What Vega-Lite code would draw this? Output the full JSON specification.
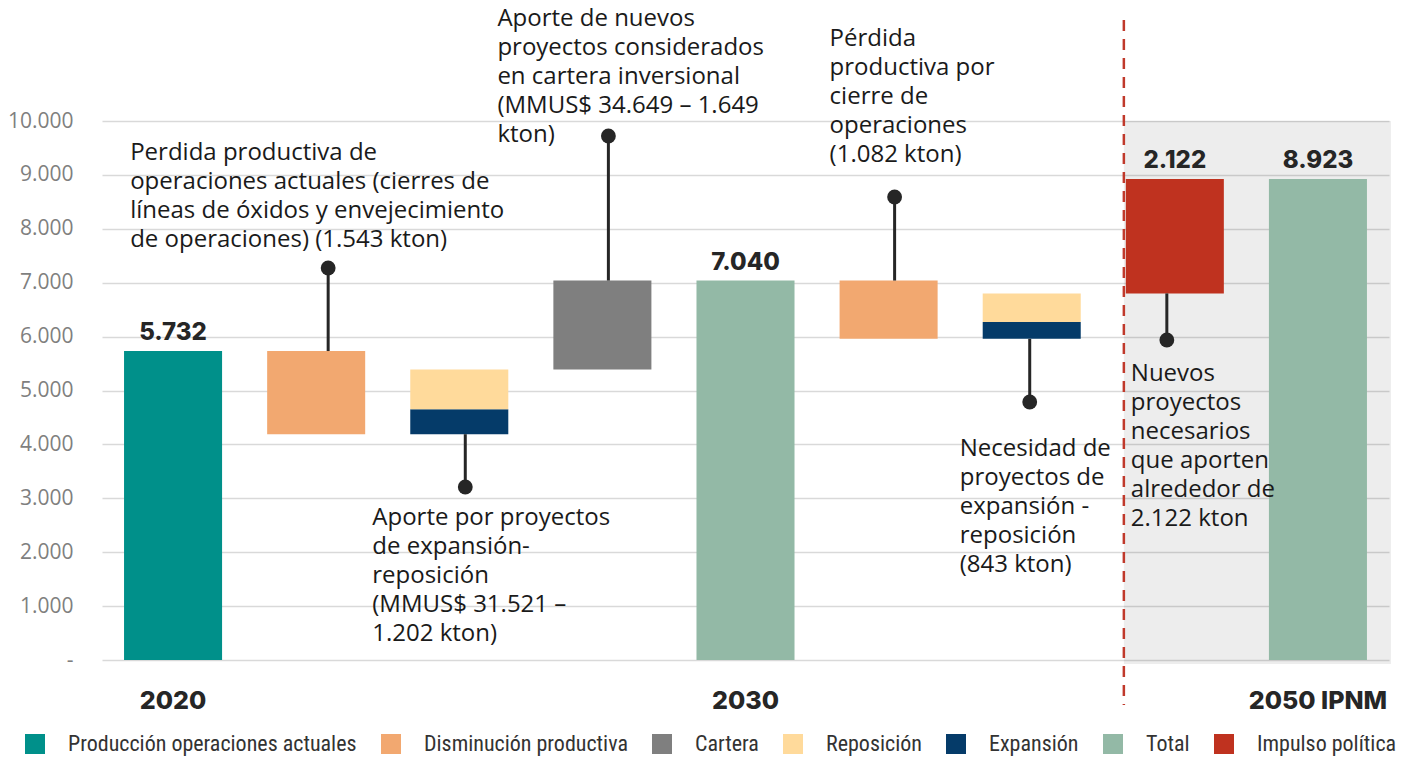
{
  "$schema": "https://vega.github.io/schema/vega-lite/v6.json",
  "width": 1287,
  "height": 539,
  "autosize": {"type": "none"},
  "padding": {"left": 102, "top": 121, "right": 12, "bottom": 97},
  "background": "white",
  "config": {"view": {"stroke": null}, "font": "Open Sans"},
  "datasets": {
    "bars": [
      {"cat": "2020", "series": "Producción operaciones actuales", "y0": 0, "y1": 5732},
      {"cat": "d1", "series": "Disminución productiva", "y0": 4189, "y1": 5732},
      {"cat": "p1", "series": "Expansión", "y0": 4189, "y1": 4653},
      {"cat": "p1", "series": "Reposición", "y0": 4653, "y1": 5391},
      {"cat": "cart", "series": "Cartera", "y0": 5391, "y1": 7040},
      {"cat": "2030", "series": "Total", "y0": 0, "y1": 7040},
      {"cat": "d2", "series": "Disminución productiva", "y0": 5958, "y1": 7040},
      {"cat": "p2", "series": "Expansión", "y0": 5958, "y1": 6271},
      {"cat": "p2", "series": "Reposición", "y0": 6271, "y1": 6801},
      {"cat": "imp", "series": "Impulso política", "y0": 6801, "y1": 8923},
      {"cat": "2050 IPNM", "series": "Total", "y0": 0, "y1": 8923}
    ],
    "conn": [
      {"cat": "d1", "grp": "a", "from": 5732, "to": 7273},
      {"cat": "p1", "grp": "b", "from": 4189, "to": 3210},
      {"cat": "cart", "grp": "b", "from": 7040, "to": 9722},
      {"cat": "d2", "grp": "b", "from": 7040, "to": 8590},
      {"cat": "p2", "grp": "c", "from": 5958, "to": 4787},
      {"cat": "imp", "grp": "d", "from": 6801, "to": 5937}
    ],
    "labels": [
      {"cat": "2020", "v": 5732, "label": "5.732"},
      {"cat": "2030", "v": 7040, "label": "7.040"},
      {"cat": "imp", "v": 8923, "label": "2.122"},
      {"cat": "2050 IPNM", "v": 8923, "label": "8.923"}
    ],
    "notes": [
      {"id": 1, "cat": "d1", "ty": 9620, "text": "Perdida productiva de\noperaciones actuales (cierres de\nlíneas de óxidos y envejecimiento\nde operaciones) (1.543 kton)"},
      {"id": 2, "cat": "cart", "ty": 12106, "text": "Aporte de nuevos\nproyectos considerados\nen cartera inversional\n(MMUS$ 34.649 – 1.649\nkton)"},
      {"id": 3, "cat": "d2", "ty": 11735, "text": "Pérdida\nproductiva por\ncierre de\noperaciones\n(1.082 kton)"},
      {"id": 4, "cat": "p1", "ty": 2848, "text": "Aporte por proyectos\nde expansión-\nreposición\n(MMUS$ 31.521 –\n1.202 kton)"},
      {"id": 5, "cat": "p2", "ty": 4129, "text": "Necesidad de\nproyectos de\nexpansión -\nreposición\n(843 kton)"},
      {"id": 6, "cat": "imp", "ty": 5520, "text": "Nuevos\nproyectos\nnecesarios\nque aporten\nalrededor de\n2.122 kton"}
    ],
    "zone": [
      {"c1": "imp", "c2": "2050 IPNM", "top": 10000, "bot": -75, "ltop": 11874, "lbot": -835}
    ]
  },
  "layer": [
    {
      "data": {"name": "zone"},
      "mark": {"type": "rect", "fill": "black", "opacity": 0.07},
      "encoding": {
        "x": {"field": "c1", "type": "nominal", "bandPosition": -0.02},
        "x2": {"field": "c2", "bandPosition": 1.245},
        "y": {"field": "top", "type": "quantitative"},
        "y2": {"field": "bot"}
      }
    },
    {
      "data": {"name": "zone"},
      "mark": {"type": "rule", "color": "#C0392B", "strokeWidth": 2.5, "strokeDash": [11, 8]},
      "encoding": {
        "x": {"field": "c1", "type": "nominal", "bandPosition": -0.02},
        "y": {"field": "ltop", "type": "quantitative"},
        "y2": {"field": "lbot"}
      }
    },
    {
      "data": {"name": "bars"},
      "mark": {"type": "bar"},
      "encoding": {
        "x": {
          "field": "cat",
          "type": "nominal",
          "sort": null,
          "scale": {
            "domain": ["2020", "d1", "p1", "cart", "2030", "d2", "p2", "imp", "2050 IPNM"],
            "paddingInner": 0.315,
            "paddingOuter": 0.154
          },
          "axis": {
            "title": null,
            "bandPosition": 0.5,
            "labelAngle": 0,
            "labelAlign": "center",
            "labelExpr": "indexof(['2020','2030','2050 IPNM'], datum.value) >= 0 ? datum.value : ''",
            "labelFont": "Inter",
            "labelFontWeight": 800,
            "labelFontSize": 25,
            "labelColor": "#262626",
            "labelPadding": 40,
            "ticks": false,
            "domain": false,
            "grid": false
          }
        },
        "y": {
          "field": "y1",
          "type": "quantitative",
          "scale": {"domain": [0, 10000], "nice": false, "zero": false},
          "axis": {
            "title": null,
            "values": [0, 1000, 2000, 3000, 4000, 5000, 6000, 7000, 8000, 9000, 10000],
            "labelExpr": "datum.value == 0 ? '-' : replace(format(datum.value, ','), ',', '.')",
            "labelFont": "Open Sans",
            "labelFontSize": 21,
            "labelColor": "#7f7f7f",
            "labelPadding": 29,
            "ticks": false,
            "domain": false,
            "grid": true,
            "gridColor": "#d9d9d9",
            "gridWidth": 1.5
          }
        },
        "y2": {"field": "y0"},
        "color": {
          "field": "series",
          "type": "nominal",
          "scale": {
            "domain": ["Producción operaciones actuales", "Disminución productiva", "Cartera", "Reposición", "Expansión", "Total", "Impulso política"],
            "range": ["#00908A", "#F2A870", "#7F7F7F", "#FFDA9B", "#053B69", "#93B9A6", "#BF321F"]
          },
          "legend": {
            "title": null,
            "orient": "none",
            "direction": "horizontal",
            "legendX": -78,
            "legendY": 612,
            "symbolType": "square",
            "symbolSize": 400,
            "symbolStrokeWidth": 0,
            "symbolOpacity": 1,
            "labelFont": "Roboto Condensed, Liberation Sans Narrow, DejaVu Sans Condensed, sans-serif",
            "labelFontSize": 22,
            "labelColor": "#333333",
            "labelOffset": 22,
            "columnPadding": 23,
            "labelLimit": 400
          }
        }
      }
    },
    {
      "data": {"name": "conn"},
      "transform": [{"filter": "datum.grp == 'a'"}],
      "mark": {"type": "rule", "color": "#262626", "strokeWidth": 3, "xOffset": 12},
      "encoding": {"x": {"field": "cat", "type": "nominal"}, "y": {"field": "from", "type": "quantitative"}, "y2": {"field": "to"}}
    },
    {
      "data": {"name": "conn"},
      "transform": [{"filter": "datum.grp == 'b'"}],
      "mark": {"type": "rule", "color": "#262626", "strokeWidth": 3, "xOffset": 6},
      "encoding": {"x": {"field": "cat", "type": "nominal"}, "y": {"field": "from", "type": "quantitative"}, "y2": {"field": "to"}}
    },
    {
      "data": {"name": "conn"},
      "transform": [{"filter": "datum.grp == 'c'"}],
      "mark": {"type": "rule", "color": "#262626", "strokeWidth": 3, "xOffset": -2},
      "encoding": {"x": {"field": "cat", "type": "nominal"}, "y": {"field": "from", "type": "quantitative"}, "y2": {"field": "to"}}
    },
    {
      "data": {"name": "conn"},
      "transform": [{"filter": "datum.grp == 'd'"}],
      "mark": {"type": "rule", "color": "#262626", "strokeWidth": 3, "xOffset": -8},
      "encoding": {"x": {"field": "cat", "type": "nominal"}, "y": {"field": "from", "type": "quantitative"}, "y2": {"field": "to"}}
    },
    {
      "data": {"name": "conn"},
      "transform": [{"filter": "datum.grp == 'a'"}],
      "mark": {"type": "point", "shape": "circle", "filled": true, "size": 220, "color": "#262626", "opacity": 1, "xOffset": 12},
      "encoding": {"x": {"field": "cat", "type": "nominal"}, "y": {"field": "to", "type": "quantitative"}}
    },
    {
      "data": {"name": "conn"},
      "transform": [{"filter": "datum.grp == 'b'"}],
      "mark": {"type": "point", "shape": "circle", "filled": true, "size": 220, "color": "#262626", "opacity": 1, "xOffset": 6},
      "encoding": {"x": {"field": "cat", "type": "nominal"}, "y": {"field": "to", "type": "quantitative"}}
    },
    {
      "data": {"name": "conn"},
      "transform": [{"filter": "datum.grp == 'c'"}],
      "mark": {"type": "point", "shape": "circle", "filled": true, "size": 220, "color": "#262626", "opacity": 1, "xOffset": -2},
      "encoding": {"x": {"field": "cat", "type": "nominal"}, "y": {"field": "to", "type": "quantitative"}}
    },
    {
      "data": {"name": "conn"},
      "transform": [{"filter": "datum.grp == 'd'"}],
      "mark": {"type": "point", "shape": "circle", "filled": true, "size": 220, "color": "#262626", "opacity": 1, "xOffset": -8},
      "encoding": {"x": {"field": "cat", "type": "nominal"}, "y": {"field": "to", "type": "quantitative"}}
    },
    {
      "data": {"name": "labels"},
      "mark": {"type": "text", "font": "Inter", "fontWeight": 800, "fontSize": 24, "color": "#262626", "baseline": "alphabetic", "dy": -11},
      "encoding": {
        "x": {"field": "cat", "type": "nominal"},
        "y": {"field": "v", "type": "quantitative"},
        "text": {"field": "label"}
      }
    },
    {
      "data": {"name": "notes"},
      "transform": [{"filter": "datum.id == 1"}],
      "mark": {"type": "text", "align": "left", "baseline": "top", "dx": -186, "fontSize": 24, "lineHeight": 29, "lineBreak": "\n", "color": "#1a1a1a", "font": "Open Sans"},
      "encoding": {"x": {"field": "cat", "type": "nominal"}, "y": {"field": "ty", "type": "quantitative"}, "text": {"field": "text"}}
    },
    {
      "data": {"name": "notes"},
      "transform": [{"filter": "datum.id == 2"}],
      "mark": {"type": "text", "align": "left", "baseline": "top", "dx": -105, "fontSize": 24, "lineHeight": 29, "lineBreak": "\n", "color": "#1a1a1a", "font": "Open Sans"},
      "encoding": {"x": {"field": "cat", "type": "nominal"}, "y": {"field": "ty", "type": "quantitative"}, "text": {"field": "text"}}
    },
    {
      "data": {"name": "notes"},
      "transform": [{"filter": "datum.id == 3"}],
      "mark": {"type": "text", "align": "left", "baseline": "top", "dx": -59, "fontSize": 24, "lineHeight": 29, "lineBreak": "\n", "color": "#1a1a1a", "font": "Open Sans"},
      "encoding": {"x": {"field": "cat", "type": "nominal"}, "y": {"field": "ty", "type": "quantitative"}, "text": {"field": "text"}}
    },
    {
      "data": {"name": "notes"},
      "transform": [{"filter": "datum.id == 4"}],
      "mark": {"type": "text", "align": "left", "baseline": "top", "dx": -87, "fontSize": 24, "lineHeight": 29, "lineBreak": "\n", "color": "#1a1a1a", "font": "Open Sans"},
      "encoding": {"x": {"field": "cat", "type": "nominal"}, "y": {"field": "ty", "type": "quantitative"}, "text": {"field": "text"}}
    },
    {
      "data": {"name": "notes"},
      "transform": [{"filter": "datum.id == 5"}],
      "mark": {"type": "text", "align": "left", "baseline": "top", "dx": -72, "fontSize": 24, "lineHeight": 29, "lineBreak": "\n", "color": "#1a1a1a", "font": "Open Sans"},
      "encoding": {"x": {"field": "cat", "type": "nominal"}, "y": {"field": "ty", "type": "quantitative"}, "text": {"field": "text"}}
    },
    {
      "data": {"name": "notes"},
      "transform": [{"filter": "datum.id == 6"}],
      "mark": {"type": "text", "align": "left", "baseline": "top", "dx": -44, "fontSize": 24, "lineHeight": 29, "lineBreak": "\n", "color": "#1a1a1a", "font": "Open Sans"},
      "encoding": {"x": {"field": "cat", "type": "nominal"}, "y": {"field": "ty", "type": "quantitative"}, "text": {"field": "text"}}
    }
  ]
}
